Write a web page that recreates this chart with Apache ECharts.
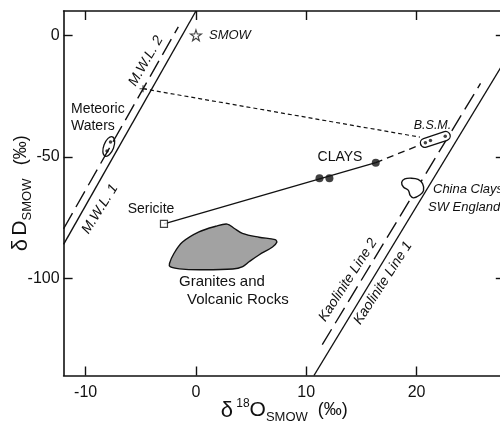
<!DOCTYPE html>
<html><head><meta charset="utf-8">
<script src="https://cdn.jsdelivr.net/npm/echarts@6/dist/echarts.min.js"></script>
<style>html,body{margin:0;padding:0;background:#fff}#c{width:500px;height:422px}</style>
</head><body><div id="c"></div>
<script>
// ---- data (δ18O, δD in ‰ SMOW) ----
const xTicks = [-10, 0, 10, 20];
const yTicks = [-100, -50, 0];
const mwl1X = [-12, 0],        mwl1Y = [-86, 10];
const mwl2X = [-12, -1.6],     mwl2Y = [-79.6, 3.5];
const kao1X = [10.7, 28],      kao1Y = [-140, -10.5];
const kao2X = [11.45, 25.8],   kao2Y = [-127.3, -19.8];
const mixX = [-4.8, 20.3],     mixY = [-22, -41.9];
const sericiteX = [-2.9],      sericiteY = [-77.6];
const claysX = [11.2, 12.1, 16.3], claysY = [-58.8, -58.8, -52.4];
const trendX = [-2.9, 16.3],   trendY = [-77.6, -52.4];
const trendDashX = [16.3, 20.6], trendDashY = [-52.4, -44.6];
const bsmX = [20.8, 21.26, 22.6], bsmY = [-44.2, -43.3, -41.5];
const meteoricX = [-7.75, -8.06], meteoricY = [-43.9, -47.6];
const smowX = [0], smowY = [0];
const crossX = [-4.8], crossY = [-22];
const graniteX = [-2.40,-2.01,-1.22,0.27,1.78,2.83,3.45,4.21,5.72,7.18,7.33,6.94,5.74,4.85,4.24,3.34,0.32,-1.50,-2.34];
const graniteY = [-93.9,-89.9,-85.1,-80.9,-78.6,-77.7,-79.4,-81.5,-83.1,-84.1,-85.2,-87.1,-90.3,-93.1,-95.2,-96.2,-96.5,-96.1,-95.2];
const chinaX = [18.65,18.93,19.53,20.14,20.55,20.63,20.33,19.73,19.42,19.26,18.81];
const chinaY = [-60.5,-59.1,-58.8,-59.3,-61.1,-63.9,-65.6,-66.9,-65.9,-63.8,-62.4];

const zip = (a, b) => a.map((v, i) => [v, b[i]]);
const FONT = 'Liberation Sans';
const INK = '#111';

function lineSeries(xs, ys, dash, w) {
  return { type: 'line', data: zip(xs, ys), symbol: 'none', silent: true, animation: false,
    lineStyle: { color: INK, width: w || 1.3, type: dash || 'solid' }, z: 3 };
}
function polygonSeries(xs, ys, fill, z) {
  return { type: 'custom', data: zip(xs, ys), animation: false, silent: true, z: z,
    renderItem: function (params, api) {
      if (params.dataIndex !== 0) return null;
      const pts = xs.map((x, i) => api.coord([x, ys[i]]));
      return { type: 'polygon', shape: { points: pts, smooth: 0.35 },
        style: { fill: fill, stroke: INK, lineWidth: 1.4 } };
    } };
}
function enclosureSeries(xs, ys, kind, pad, half) {
  return { type: 'custom', data: zip(xs, ys), animation: false, silent: true, z: 4,
    renderItem: function (params, api) {
      if (params.dataIndex !== 0) return null;
      const n = xs.length - 1;
      const a = api.coord([xs[0], ys[0]]), b = api.coord([xs[n], ys[n]]);
      const cx = (a[0] + b[0]) / 2, cy = (a[1] + b[1]) / 2;
      const dx = b[0] - a[0], dy = b[1] - a[1];
      const d = Math.sqrt(dx * dx + dy * dy);
      const rot = Math.atan2(-dy, dx);
      const L = d / 2 + pad;
      if (kind === 'ellipse') {
        return { type: 'ellipse', x: cx, y: cy, rotation: rot,
          shape: { cx: 0, cy: 0, rx: L, ry: half },
          style: { fill: 'none', stroke: INK, lineWidth: 1.3 } };
      }
      return { type: 'rect', x: cx, y: cy, rotation: rot,
        shape: { x: -L, y: -half, width: 2 * L, height: 2 * half, r: half },
        style: { fill: '#fff', stroke: INK, lineWidth: 1.3 } };
    } };
}

const STAR = 'path://M50,2 L61,36 L97,36 L68,57 L79,92 L50,71 L21,92 L32,57 L3,36 L39,36 Z';
const CROSS = 'path://M0,5 L10,5 M5,0 L5,10';

const richName = {
  d: { fontSize: 22, fontFamily: FONT, color: INK, verticalAlign: 'middle', lineHeight: 26 },
  o: { fontSize: 21, fontFamily: FONT, color: INK, verticalAlign: 'middle', lineHeight: 26 },
  sup: { fontSize: 12, fontFamily: FONT, color: INK, verticalAlign: 'top', lineHeight: 26, padding: [0, 0, 10, 0] },
  sub: { fontSize: 13, fontFamily: FONT, color: INK, verticalAlign: 'bottom', lineHeight: 14, padding: [6, 0, 0, 0] },
  u: { fontSize: 18, fontFamily: FONT, color: INK, verticalAlign: 'middle', lineHeight: 26 }
};

const axisCommon = {
  axisLine: { onZero: false, lineStyle: { color: INK, width: 1.6 } },
  splitLine: { show: false },
  axisTick: { inside: true, length: 9, lineStyle: { color: INK, width: 1.4 } },
};

const option = {
  backgroundColor: '#fff',
  animation: false,
  grid: { left: 63.6, right: -4.8, top: 11, bottom: 46.5, containLabel: false, outerBoundsMode: 'none' },
  xAxis: [
    Object.assign({}, axisCommon, {
      type: 'value', min: -12, max: 28, position: 'bottom',
      axisTick: Object.assign({}, axisCommon.axisTick, { customValues: xTicks }),
      axisLabel: { customValues: xTicks, fontSize: 16, fontFamily: FONT, color: INK, margin: 9 },
      name: '{d|δ} {sup|18}{o|O}{sub|SMOW}   {u|(‰)}', nameLocation: 'middle', nameGap: 22,
      nameMoveOverlap: false,
      nameTextStyle: { rich: richName }
    }),
    Object.assign({}, axisCommon, {
      type: 'value', min: -12, max: 28, position: 'top',
      axisTick: Object.assign({}, axisCommon.axisTick, { customValues: xTicks }),
      axisLabel: { show: false }
    })
  ],
  yAxis: [
    Object.assign({}, axisCommon, {
      type: 'value', min: -140, max: 10, position: 'left',
      axisTick: Object.assign({}, axisCommon.axisTick, { customValues: yTicks }),
      axisLabel: { customValues: yTicks, fontSize: 16, fontFamily: FONT, color: INK, margin: 4 },
      name: '{d|δ} {o|D}{sub|SMOW}    {u|(‰)}', nameLocation: 'middle', nameGap: 30, nameRotate: 90,
      nameMoveOverlap: false,
      nameTextStyle: { rich: richName }
    }),
    Object.assign({}, axisCommon, {
      type: 'value', min: -140, max: 10, position: 'right',
      axisTick: Object.assign({}, axisCommon.axisTick, { customValues: yTicks }),
      axisLabel: { show: false }
    })
  ],
  series: [
    polygonSeries(graniteX, graniteY, '#a2a2a2', 2),
    lineSeries(mwl1X, mwl1Y, 'solid', 1.4),
    lineSeries(mwl2X, mwl2Y, [18, 7], 1.4),
    lineSeries(kao1X, kao1Y, 'solid', 1.4),
    lineSeries(kao2X, kao2Y, [18, 7], 1.4),
    lineSeries(mixX, mixY, [4, 3], 1.2),
    lineSeries(trendX, trendY, 'solid', 1.3),
    lineSeries(trendDashX, trendDashY, [7, 5], 1.3),
    polygonSeries(chinaX, chinaY, '#fff', 5),
    enclosureSeries(bsmX, bsmY, 'pill', 5, 4.5),
    enclosureSeries(meteoricX, meteoricY, 'ellipse', 5.5, 5),
    { type: 'scatter', data: zip(bsmX, bsmY), symbolSize: 3.5, itemStyle: { color: INK }, z: 6, silent: true },
    { type: 'scatter', data: zip(meteoricX, meteoricY), symbolSize: 3.5, itemStyle: { color: INK }, z: 6, silent: true },
    { type: 'scatter', data: zip(claysX, claysY), symbolSize: 8, itemStyle: { color: INK }, z: 6, silent: true },
    { type: 'scatter', data: zip(sericiteX, sericiteY), symbol: 'rect', symbolSize: 7,
      itemStyle: { color: '#fff', borderColor: INK, borderWidth: 1.2 }, z: 6, silent: true },
    { type: 'scatter', data: zip(crossX, crossY), symbol: CROSS, symbolSize: 7,
      itemStyle: { color: INK, borderColor: INK, borderWidth: 1.2 }, z: 6, silent: true },
    { type: 'scatter', data: zip(smowX, smowY), symbol: STAR, symbolSize: 11,
      itemStyle: { color: '#fff', borderColor: INK, borderWidth: 1.1 }, z: 6, silent: true }
  ],
  graphic: [
    txt('SMOW', 209, 35, 0, 13, 'italic', 'left'),
    txt('Meteoric', 71, 109, 0, 14, 'normal', 'left'),
    txt('Waters', 71, 126, 0, 14, 'normal', 'left'),
    txt('M.W.L. 2', 146, 61, 60, 14, 'italic', 'center'),
    txt('M.W.L. 1', 100, 209, 58, 14, 'italic', 'center'),
    txt('B.S.M.', 432.5, 126, 0, 12.5, 'italic', 'center'),
    txt('CLAYS', 340, 157.5, 0, 14, 'normal', 'center'),
    txt('Sericite', 151, 209, 0, 14, 'normal', 'center'),
    txt('China Clays', 433, 189, 0, 13, 'italic', 'left'),
    txt('SW England', 428, 207, 0, 13, 'italic', 'left'),
    txt('Granites and', 179, 282, 0, 15, 'normal', 'left'),
    txt('Volcanic Rocks', 187, 300, 0, 15, 'normal', 'left'),
    txt('Kaolinite Line 2', 348, 280, 57, 14, 'italic', 'center'),
    txt('Kaolinite Line 1', 383, 283, 57, 14, 'italic', 'center')
  ]
};
function txt(t, x, y, deg, size, style, align) {
  return { type: 'text', x: x, y: y, rotation: deg * Math.PI / 180, z: 10, silent: true,
    style: { text: t, fontFamily: FONT, fontSize: size, fontStyle: style, fill: INK,
      align: align, verticalAlign: 'middle' } };
}
const chart = echarts.init(document.getElementById('c'), null, { renderer: 'canvas' });
chart.setOption(option);
</script></body></html>
